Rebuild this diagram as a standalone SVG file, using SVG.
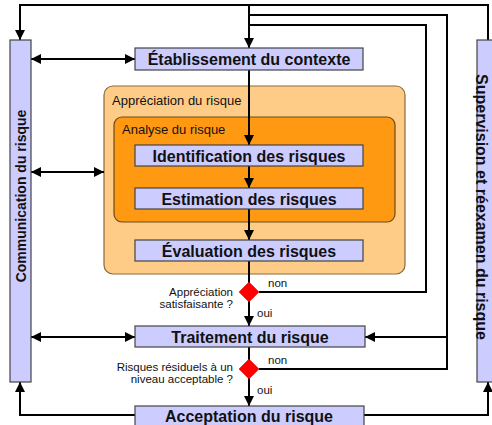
<svg xmlns="http://www.w3.org/2000/svg" width="492" height="425" viewBox="0 0 492 425">
<defs>
<marker id="ah" viewBox="0 0 10 10" refX="10" refY="5" markerWidth="10" markerHeight="10" markerUnits="userSpaceOnUse" orient="auto-start-reverse">
<path d="M0,0 L10,5 L0,10 Z" fill="#000"/>
</marker>
<style>
.box{fill:#ccccff;stroke:#444;stroke-width:1.2}
.lbl{font-family:"Liberation Sans",Arial,sans-serif;font-weight:bold;font-size:16px;fill:#111;text-anchor:middle}
.bar{font-family:"Liberation Sans",Arial,sans-serif;font-weight:bold;font-size:14px;fill:#111;text-anchor:middle}
.sm{font-family:"Liberation Sans",Arial,sans-serif;font-size:11.5px;fill:#111}
.grp{font-family:"Liberation Sans",Arial,sans-serif;font-size:13px;fill:#111}
.ln{fill:none;stroke:#000;stroke-width:2}
.dia{fill:#ff0000;stroke:#cc0000;stroke-width:0.5}
</style>
</defs>
<rect width="492" height="425" fill="#fff"/>

<g id="appreciation">
<rect x="104" y="86" width="301" height="188" rx="9" fill="#ffcc88" stroke="#8a6a3a" stroke-width="1.2"/>
<text class="grp" x="112" y="105">Appréciation du risque</text>
</g>
<g id="analyse">
<rect x="114" y="117" width="281" height="105" rx="8" fill="#ff9911" stroke="#6a4a1a" stroke-width="1.2"/>
<text class="grp" x="122" y="134">Analyse du risque</text>
</g>

<g id="connectors">
<polyline class="ln" points="488,40 488,5 20,5 20,40" marker-end="url(#ah)"/>
<line class="ln" x1="249" y1="5" x2="249" y2="48" marker-end="url(#ah)"/>
<polyline class="ln" points="259,292 426,292 426,25 249,25"/>
<polyline class="ln" points="259,369 447,369 447,15 249,15"/>
<line class="ln" x1="447" y1="337" x2="365" y2="337" marker-end="url(#ah)"/>
<line class="ln" x1="249" y1="70" x2="249" y2="145" marker-end="url(#ah)"/>
<line class="ln" x1="249" y1="166" x2="249" y2="188" marker-end="url(#ah)"/>
<line class="ln" x1="249" y1="209" x2="249" y2="240" marker-end="url(#ah)"/>
<line class="ln" x1="249" y1="261" x2="249" y2="283"/>
<line class="ln" x1="249" y1="301" x2="249" y2="326" marker-end="url(#ah)"/>
<line class="ln" x1="249" y1="347" x2="249" y2="360"/>
<line class="ln" x1="249" y1="378" x2="249" y2="406" marker-end="url(#ah)"/>
<line class="ln" x1="31" y1="59" x2="135" y2="59" marker-start="url(#ah)" marker-end="url(#ah)"/>
<line class="ln" x1="31" y1="172" x2="104" y2="172" marker-start="url(#ah)" marker-end="url(#ah)"/>
<line class="ln" x1="31" y1="337" x2="135" y2="337" marker-start="url(#ah)" marker-end="url(#ah)"/>
<polyline class="ln" points="135,415 20,415 20,382" marker-end="url(#ah)"/>
<polyline class="ln" points="364,415 488,415 488,382" marker-end="url(#ah)"/>
</g>

<g id="communication">
<rect class="box" x="10" y="40" width="21" height="342"/>
<text class="bar" transform="translate(25.5,196) rotate(-90)">Communication du risque</text>
</g>
<g id="supervision">
<rect class="box" x="477" y="40" width="22" height="342"/>
<text class="bar" style="font-size:16px" transform="translate(476,207) rotate(90)">Supervision et réexamen du risque</text>
</g>

<g id="etablissement">
<rect class="box" x="135" y="48" width="228" height="22"/>
<text class="lbl" x="249" y="65">Établissement du contexte</text>
</g>
<g id="identification">
<rect class="box" x="135" y="145" width="228" height="21"/>
<text class="lbl" x="249" y="161.5">Identification des risques</text>
</g>
<g id="estimation">
<rect class="box" x="135" y="188" width="228" height="21"/>
<text class="lbl" x="249" y="204.5">Estimation des risques</text>
</g>
<g id="evaluation">
<rect class="box" x="135" y="240" width="228" height="21"/>
<text class="lbl" x="249" y="256.5">Évaluation des risques</text>
</g>
<g id="decision1">
<polygon class="dia" points="249,282 259,292 249,302 239,292"/>
<text class="sm" x="233" y="296" text-anchor="end">Appréciation</text>
<text class="sm" x="233" y="308" text-anchor="end">satisfaisante ?</text>
<text class="sm" x="268" y="287">non</text>
<text class="sm" x="257" y="317">oui</text>
</g>
<g id="traitement">
<rect class="box" x="135" y="326" width="230" height="21"/>
<text class="lbl" x="250" y="342.5">Traitement du risque</text>
</g>
<g id="decision2">
<polygon class="dia" points="249,359 259,369 249,379 239,369"/>
<text class="sm" x="233" y="371" text-anchor="end">Risques résiduels à un</text>
<text class="sm" x="233" y="383" text-anchor="end">niveau acceptable ?</text>
<text class="sm" x="268" y="364">non</text>
<text class="sm" x="257" y="394">oui</text>
</g>
<g id="acceptation">
<rect class="box" x="135" y="406" width="229" height="22"/>
<text class="lbl" x="249" y="422">Acceptation du risque</text>
</g>
</svg>
